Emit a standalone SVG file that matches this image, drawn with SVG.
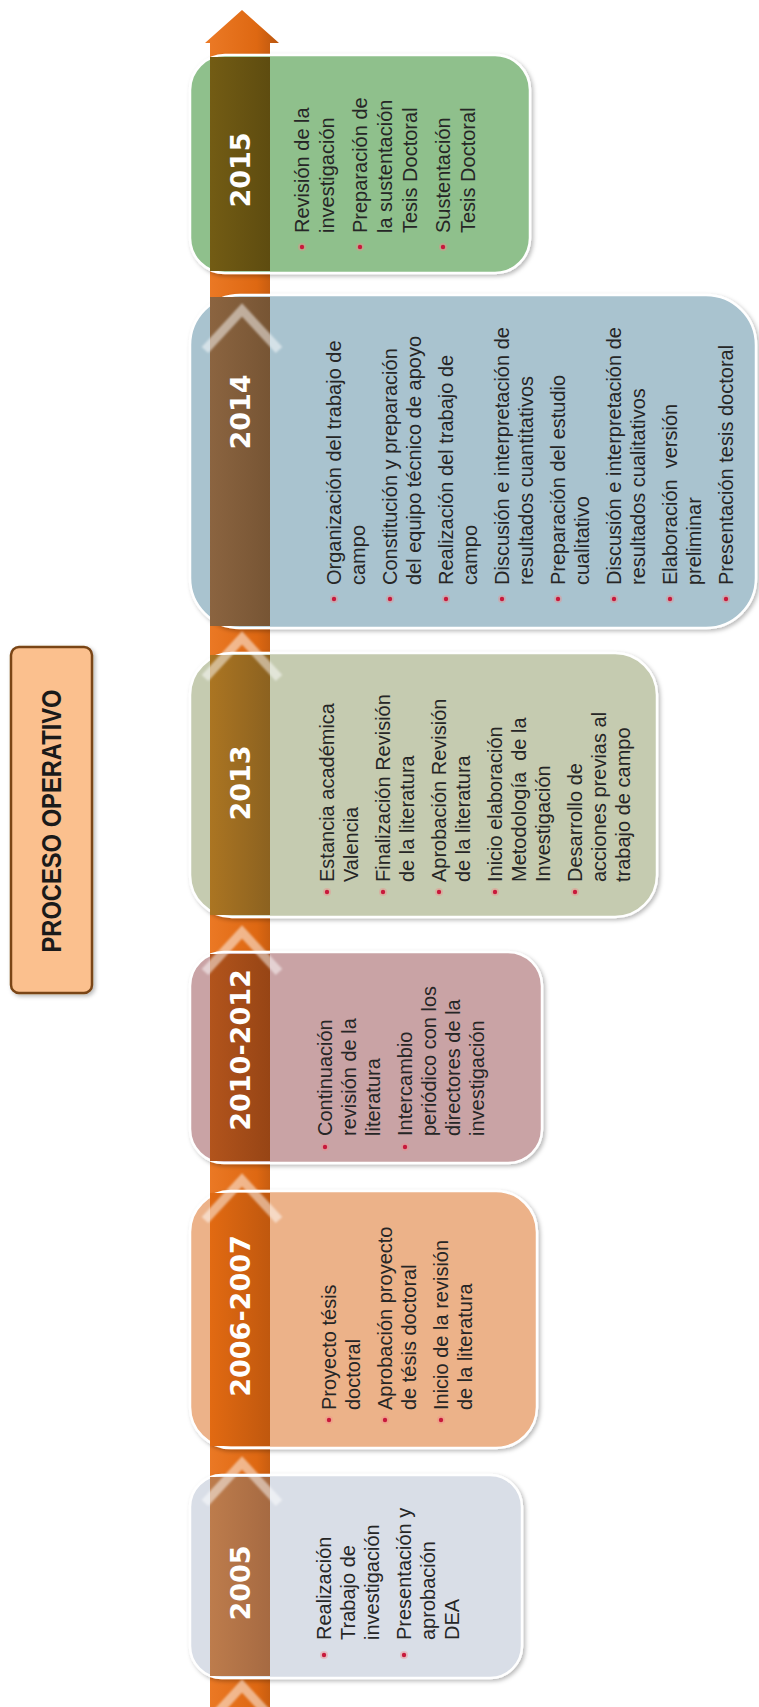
<svg xmlns="http://www.w3.org/2000/svg" width="759" height="1707" viewBox="0 0 759 1707">
  <defs>
    <style>
      .body { font-family: "Liberation Sans", Arial, sans-serif; font-size: 20px; fill: #262626; }
      .year { font-family: "DejaVu Sans", sans-serif; font-weight: bold; font-size: 27px; fill: #ffffff; text-anchor: middle; }
      .title { font-family: "Liberation Sans", Arial, sans-serif; font-weight: bold; font-size: 28px; fill: #1a1a1a; text-anchor: middle; }
      .card { stroke: #ffffff; stroke-width: 2.5; filter: url(#shadow); }
      .chev { fill: none; stroke: #ffffff; stroke-opacity: 0.5; stroke-width: 9; filter: url(#soft); }
      .dot { fill: #c8193c; }
      .halo { fill: #f28a8a; opacity: 0.4; }
    </style>
    <linearGradient id="spineGrad" x1="0" y1="0" x2="1" y2="0">
      <stop offset="0" stop-color="#ec7a26"/>
      <stop offset="0.7" stop-color="#de6812"/>
      <stop offset="1" stop-color="#b9560f"/>
    </linearGradient>
    <linearGradient id="s2005" x1="0" y1="0" x2="1" y2="0"><stop offset="0" stop-color="#bd7c4c"/><stop offset="1" stop-color="#a66a42"/></linearGradient>
    <linearGradient id="s2006" x1="0" y1="0" x2="1" y2="0"><stop offset="0" stop-color="#e26a12"/><stop offset="1" stop-color="#c0580e"/></linearGradient>
    <linearGradient id="s2010" x1="0" y1="0" x2="1" y2="0"><stop offset="0" stop-color="#b2541c"/><stop offset="1" stop-color="#974515"/></linearGradient>
    <linearGradient id="s2013" x1="0" y1="0" x2="1" y2="0"><stop offset="0" stop-color="#ab7522"/><stop offset="1" stop-color="#8c6220"/></linearGradient>
    <linearGradient id="s2014" x1="0" y1="0" x2="1" y2="0"><stop offset="0" stop-color="#8b6440"/><stop offset="1" stop-color="#775534"/></linearGradient>
    <linearGradient id="s2015" x1="0" y1="0" x2="1" y2="0"><stop offset="0" stop-color="#735c14"/><stop offset="1" stop-color="#5e4c10"/></linearGradient>
    <filter id="shadow" x="-10%" y="-10%" width="125%" height="125%">
      <feDropShadow dx="2" dy="2" stdDeviation="2" flood-color="#000" flood-opacity="0.28"/>
    </filter>
    <filter id="soft" x="-20%" y="-20%" width="140%" height="140%">
      <feGaussianBlur stdDeviation="1.3"/>
    </filter>
  </defs>

  <rect width="759" height="1707" fill="#ffffff"/>

  <!-- timeline arrow -->
  <g id="connectors">
    <path d="M210 1707 V43 H205 L242 10 L279 43 H270 V1707 Z" fill="url(#spineGrad)"/>
  </g>

  <!-- title -->
  <g id="title">
    <rect x="11" y="647" width="81" height="346" rx="8" fill="#fbc08e" stroke="#7a4514" stroke-width="2.5" filter="url(#shadow)"/>
    <text class="title" transform="translate(61,821) rotate(-90)" textLength="263" lengthAdjust="spacingAndGlyphs">PROCESO OPERATIVO</text>
  </g>

  <!-- 2005 -->
  <g id="card-2005">
    <rect class="card" x="190" y="1475" width="332" height="203" rx="32" fill="#d9dee7"/>
    <rect x="210" y="1477" width="60" height="199" fill="url(#s2005)"/>
    <text class="year" transform="translate(250,1583) rotate(-90)">2005</text>
    <g transform="translate(331,1640) rotate(-90)">
      <circle class="halo" cx="-15" cy="-7" r="4"/><circle class="dot" cx="-15" cy="-7" r="2.2"/>
      <circle class="halo" cx="-15" cy="73" r="4"/><circle class="dot" cx="-15" cy="73" r="2.2"/>
      <text class="body" y="0">Realización</text>
      <text class="body" y="24">Trabajo de</text>
      <text class="body" y="48">investigación</text>
      <text class="body" y="80">Presentación y</text>
      <text class="body" y="104">aprobación</text>
      <text class="body" y="128">DEA</text>
    </g>
  </g>

  <!-- 2006-2007 -->
  <g id="card-2006-2007">
    <rect class="card" x="190" y="1191" width="347" height="257" rx="41" fill="#ecb289"/>
    <rect x="210" y="1193" width="60" height="253" fill="url(#s2006)"/>
    <text class="year" transform="translate(250,1316) rotate(-90)">2006-2007</text>
    <g transform="translate(336,1410) rotate(-90)">
      <circle class="halo" cx="-10" cy="-7" r="4"/><circle class="dot" cx="-10" cy="-7" r="2.2"/>
      <circle class="halo" cx="-10" cy="49" r="4"/><circle class="dot" cx="-10" cy="49" r="2.2"/>
      <circle class="halo" cx="-10" cy="105" r="4"/><circle class="dot" cx="-10" cy="105" r="2.2"/>
      <text class="body" y="0">Proyecto tésis</text>
      <text class="body" y="24">doctoral</text>
      <text class="body" y="56">Aprobación proyecto</text>
      <text class="body" y="80">de tésis doctoral</text>
      <text class="body" y="112">Inicio de la revisión</text>
      <text class="body" y="136">de la literatura</text>
    </g>
  </g>

  <!-- 2010-2012 -->
  <g id="card-2010-2012">
    <rect class="card" x="190" y="952" width="352" height="211" rx="34" fill="#c9a3a5"/>
    <rect x="210" y="954" width="60" height="207" fill="url(#s2010)"/>
    <text class="year" transform="translate(250,1050) rotate(-90)">2010-2012</text>
    <g transform="translate(332,1136) rotate(-90)">
      <circle class="halo" cx="-11" cy="-7" r="4"/><circle class="dot" cx="-11" cy="-7" r="2.2"/>
      <circle class="halo" cx="-11" cy="73" r="4"/><circle class="dot" cx="-11" cy="73" r="2.2"/>
      <text class="body" y="0">Continuación</text>
      <text class="body" y="24">revisión de la</text>
      <text class="body" y="48">literatura</text>
      <text class="body" y="80">Intercambio</text>
      <text class="body" y="104">periódico con los</text>
      <text class="body" y="128">directores de la</text>
      <text class="body" y="152">investigación</text>
    </g>
  </g>

  <!-- 2013 -->
  <g id="card-2013">
    <rect class="card" x="190" y="653" width="467" height="264" rx="42" fill="#c5cbb0"/>
    <rect x="210" y="655" width="60" height="260" fill="url(#s2013)"/>
    <text class="year" transform="translate(250,783) rotate(-90)">2013</text>
    <g transform="translate(334,882) rotate(-90)">
      <circle class="halo" cx="-10" cy="-7" r="4"/><circle class="dot" cx="-10" cy="-7" r="2.2"/>
      <circle class="halo" cx="-10" cy="49" r="4"/><circle class="dot" cx="-10" cy="49" r="2.2"/>
      <circle class="halo" cx="-10" cy="105" r="4"/><circle class="dot" cx="-10" cy="105" r="2.2"/>
      <circle class="halo" cx="-10" cy="161" r="4"/><circle class="dot" cx="-10" cy="161" r="2.2"/>
      <circle class="halo" cx="-10" cy="241" r="4"/><circle class="dot" cx="-10" cy="241" r="2.2"/>
      <text class="body" y="0">Estancia académica</text>
      <text class="body" y="24">Valencia</text>
      <text class="body" y="56">Finalización Revisión</text>
      <text class="body" y="80">de la literatura</text>
      <text class="body" y="112">Aprobación Revisión</text>
      <text class="body" y="136">de la literatura</text>
      <text class="body" y="168">Inicio elaboración</text>
      <text class="body" y="192" xml:space="preserve">Metodología  de la</text>
      <text class="body" y="216">Investigación</text>
      <text class="body" y="248">Desarrollo de</text>
      <text class="body" y="272">acciones previas al</text>
      <text class="body" y="296">trabajo de campo</text>
    </g>
  </g>

  <!-- 2014 -->
  <g id="card-2014">
    <rect class="card" x="190" y="295" width="566" height="333" rx="50" fill="#a9c3cf"/>
    <rect x="210" y="297" width="60" height="329" fill="url(#s2014)"/>
    <text class="year" transform="translate(250,412) rotate(-90)">2014</text>
    <g transform="translate(341,585) rotate(-90)">
      <circle class="halo" cx="-14" cy="-7" r="4"/><circle class="dot" cx="-14" cy="-7" r="2.2"/>
      <circle class="halo" cx="-14" cy="49" r="4"/><circle class="dot" cx="-14" cy="49" r="2.2"/>
      <circle class="halo" cx="-14" cy="105" r="4"/><circle class="dot" cx="-14" cy="105" r="2.2"/>
      <circle class="halo" cx="-14" cy="161" r="4"/><circle class="dot" cx="-14" cy="161" r="2.2"/>
      <circle class="halo" cx="-14" cy="217" r="4"/><circle class="dot" cx="-14" cy="217" r="2.2"/>
      <circle class="halo" cx="-14" cy="273" r="4"/><circle class="dot" cx="-14" cy="273" r="2.2"/>
      <circle class="halo" cx="-14" cy="329" r="4"/><circle class="dot" cx="-14" cy="329" r="2.2"/>
      <circle class="halo" cx="-14" cy="385" r="4"/><circle class="dot" cx="-14" cy="385" r="2.2"/>
      <text class="body" y="0">Organización del trabajo de</text>
      <text class="body" y="24">campo</text>
      <text class="body" y="56">Constitución y preparación</text>
      <text class="body" y="80">del equipo técnico de apoyo</text>
      <text class="body" y="112">Realización del trabajo de</text>
      <text class="body" y="136">campo</text>
      <text class="body" y="168">Discusión e interpretación de</text>
      <text class="body" y="192">resultados cuantitativos</text>
      <text class="body" y="224">Preparación del estudio</text>
      <text class="body" y="248">cualitativo</text>
      <text class="body" y="280">Discusión e interpretación de</text>
      <text class="body" y="304">resultados cualitativos</text>
      <text class="body" y="336" xml:space="preserve">Elaboración  versión</text>
      <text class="body" y="360">preliminar</text>
      <text class="body" y="392">Presentación tesis doctoral</text>
    </g>
  </g>

  <!-- 2015 -->
  <g id="card-2015">
    <rect class="card" x="190" y="55" width="340" height="218" rx="35" fill="#8fc08c"/>
    <rect x="210" y="57" width="60" height="214" fill="url(#s2015)"/>
    <text class="year" transform="translate(250,170) rotate(-90)">2015</text>
    <g transform="translate(309,233) rotate(-90)">
      <circle class="halo" cx="-14" cy="-7" r="4"/><circle class="dot" cx="-14" cy="-7" r="2.2"/>
      <circle class="halo" cx="-14" cy="51" r="4"/><circle class="dot" cx="-14" cy="51" r="2.2"/>
      <circle class="halo" cx="-14" cy="134" r="4"/><circle class="dot" cx="-14" cy="134" r="2.2"/>
      <text class="body" y="0">Revisión de la</text>
      <text class="body" y="25">investigación</text>
      <text class="body" y="58">Preparación de</text>
      <text class="body" y="83">la sustentación</text>
      <text class="body" y="108">Tesis Doctoral</text>
      <text class="body" y="141">Sustentación</text>
      <text class="body" y="166">Tesis Doctoral</text>
    </g>
  </g>

  <!-- chevrons marking each step on the arrow -->
  <g id="chevrons">
    <polyline class="chev" points="205,1726 242,1686 279,1726"/>
    <polyline class="chev" points="205,1503 242,1463 279,1503"/>
    <polyline class="chev" points="205,1220 242,1180 279,1220"/>
    <polyline class="chev" points="205,972 242,932 279,972"/>
    <polyline class="chev" points="205,678 242,638 279,678"/>
    <polyline class="chev" points="205,350 242,310 279,350"/>
  </g>
</svg>
